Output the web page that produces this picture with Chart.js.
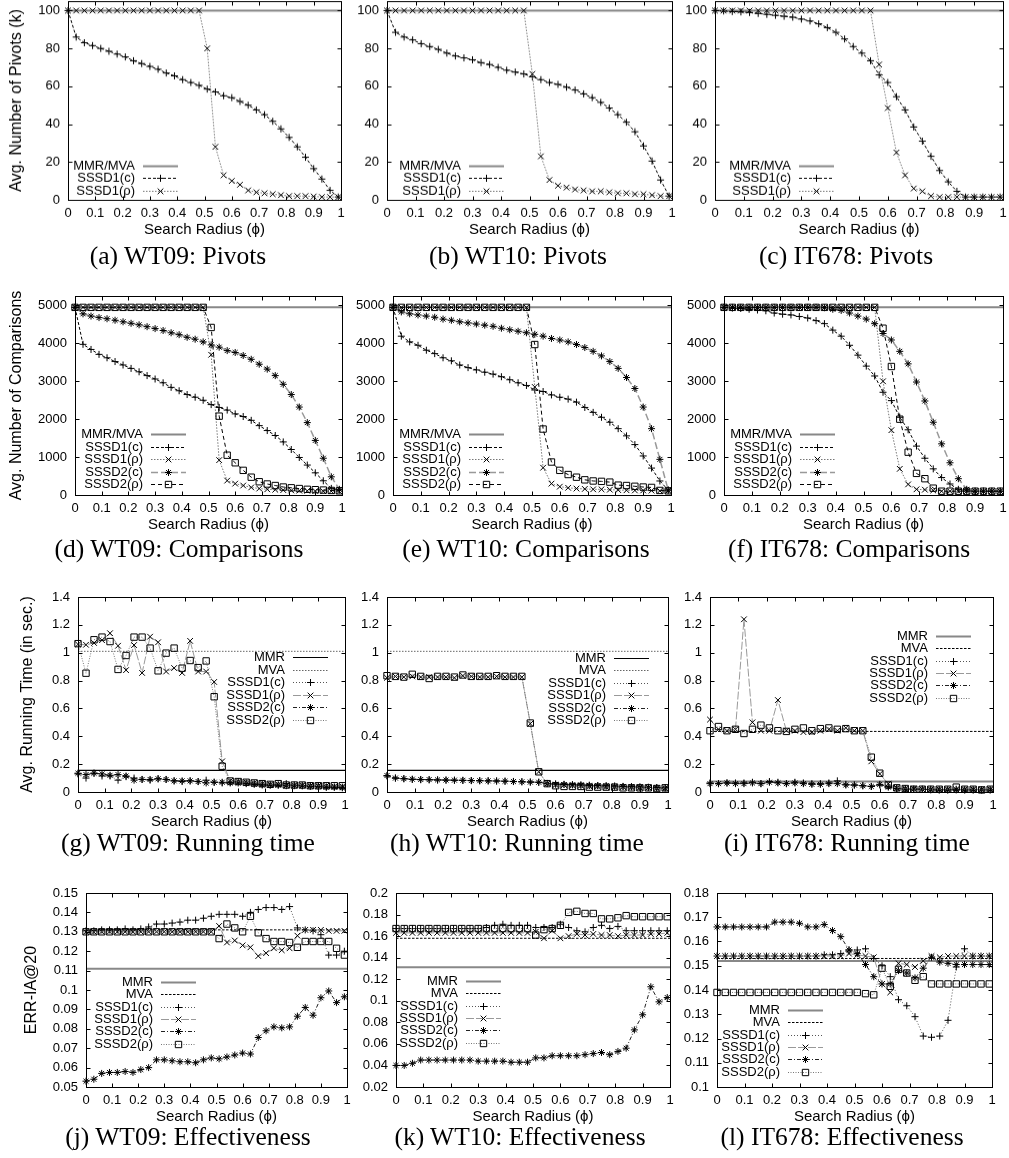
<!DOCTYPE html>
<html>
<head>
<meta charset="utf-8">
<script src="https://cdn.jsdelivr.net/npm/chart.js@4.4.1/dist/chart.umd.min.js"></script>
<style>
  body { margin: 0; background: #fff; }
  #fig { position: relative; width: 1009px; height: 1158px; overflow: hidden; background: #fff; }
  #fig canvas { position: absolute; }
  .cap { position: absolute; font-family: "Liberation Serif", serif; font-size: 25.5px; line-height: 25.5px;
         white-space: nowrap; transform: translateX(-50%); color: #000; }
</style>
</head>
<body>
<div id="fig"></div>
<script>
// search radius values (x axis)
const radius = [0, 0.03, 0.06, 0.09, 0.12, 0.15, 0.18, 0.21, 0.24, 0.27, 0.3, 0.33, 0.36, 0.39, 0.42, 0.45, 0.48,
  0.51, 0.54, 0.57, 0.6, 0.63, 0.66, 0.69, 0.72, 0.75, 0.78, 0.81, 0.84, 0.87, 0.9, 0.93, 0.96, 0.99];

// tick labels
const radiusTicks = [0, 0.1, 0.2, 0.3, 0.4, 0.5, 0.6, 0.7, 0.8, 0.9, 1];
const pivotTicks = [0, 20, 40, 60, 80, 100];
const cmpTicks = [0, 1000, 2000, 3000, 4000, 5000];
const timeTicks = [0, 0.2, 0.4, 0.6, 0.8, 1, 1.2, 1.4];
const wt09ErrTicks = [0.05, 0.06, 0.07, 0.08, 0.09, 0.1, 0.11, 0.12, 0.13, 0.14, 0.15];
const wt10ErrTicks = [0.02, 0.04, 0.06, 0.08, 0.1, 0.12, 0.14, 0.16, 0.18, 0.2];
const it678ErrTicks = [0.1, 0.11, 0.12, 0.13, 0.14, 0.15, 0.16, 0.17, 0.18];

// constant baselines: WT09, WT10, IT678
const pivotsMmrMva = [100, 100, 100];
const cmpMmrMva = [4950, 4950, 4950];
const timeMmr = [0.155, 0.155, 0.075];
const timeMva = [1.01, 1.01, 0.435];
const errMmr = [0.111, 0.131, 0.152];
const errMva = [0.131, 0.158, 0.153];

// pivots
const wt09PivC = [100, 86, 83, 81.5, 80, 78.5, 77, 75.5, 73.5, 72, 70.5, 69, 67, 65.5, 63.5, 62, 60.5, 58.5, 57, 55, 54, 52, 50, 47.5, 45, 41.5, 37.5, 33, 28, 22.5, 16.5, 11, 5, 1.5];
const wt09PivR = [100, 100, 100, 100, 100, 100, 100, 100, 100, 100, 100, 100, 100, 100, 100, 100, 100, 80, 28, 13, 10, 8, 5, 4, 3.5, 3, 2.5, 2, 2, 2, 1.8, 1.5, 1.5, 1.5];
const wt10PivC = [100, 88.5, 86, 84.5, 82.5, 81, 79.5, 77.5, 76, 75, 74, 72.5, 71.5, 70, 68.5, 67.5, 66.5, 65, 63.5, 62, 61, 59.5, 58, 56, 54, 51.5, 48.5, 45, 41, 36, 28.5, 20.5, 10.5, 2];
const wt10PivR = [100, 100, 100, 100, 100, 100, 100, 100, 100, 100, 100, 100, 100, 100, 100, 100, 100, 66.5, 23, 10.5, 7.5, 6.5, 5.5, 5, 4.5, 4.5, 4, 3.5, 3.5, 3, 3, 2.5, 2, 2];
const it678PivC = [100, 99.8, 99.5, 99.3, 99, 98.5, 98, 97.5, 97, 96.5, 95.5, 94.5, 93, 91, 88.5, 85, 81, 77.5, 73.5, 66, 62, 54.5, 47.5, 38.5, 31, 23, 15.5, 9.5, 4.5, 1.5, 1.5, 1.5, 1.5, 1.5];
const it678PivR = [100, 100, 100, 100, 100, 100, 100, 100, 100, 100, 100, 100, 100, 100, 100, 100, 100, 100, 100, 71.5, 48.5, 25, 13, 6, 4.5, 2, 1.5, 1.5, 1.5, 1.5, 1.5, 1.5, 1.5, 1.5];

// comparisons
const wt09CmpC1 = [4950, 3975, 3840, 3710, 3620, 3520, 3430, 3340, 3250, 3150, 3060, 2960, 2840, 2750, 2650, 2580, 2500, 2385, 2310, 2240, 2140, 2070, 1970, 1830, 1700, 1570, 1400, 1200, 990, 790, 585, 375, 175, 130];
const wt09CmpR1 = [4950, 4950, 4950, 4950, 4950, 4950, 4950, 4950, 4950, 4950, 4950, 4950, 4950, 4950, 4950, 4950, 4950, 3700, 920, 380, 300, 250, 200, 170, 150, 140, 130, 120, 115, 110, 105, 100, 100, 100];
const wt09CmpC2 = [4950, 4780, 4720, 4680, 4650, 4610, 4570, 4530, 4490, 4440, 4390, 4340, 4280, 4230, 4160, 4110, 4040, 3960, 3900, 3810, 3760, 3680, 3580, 3450, 3320, 3150, 2920, 2650, 2320, 1910, 1440, 970, 480, 150];
const wt09CmpR2 = [4950, 4950, 4950, 4950, 4950, 4950, 4950, 4950, 4950, 4950, 4950, 4950, 4950, 4950, 4950, 4950, 4950, 4420, 2080, 1050, 850, 650, 470, 350, 290, 250, 210, 190, 170, 150, 140, 130, 120, 110];
const wt10CmpC1 = [4950, 4190, 4040, 3950, 3820, 3730, 3620, 3540, 3430, 3360, 3300, 3240, 3190, 3120, 3040, 2960, 2890, 2770, 2730, 2640, 2580, 2530, 2450, 2310, 2180, 2050, 1920, 1750, 1560, 1330, 1030, 710, 370, 130];
const wt10CmpR1 = [4950, 4950, 4950, 4950, 4950, 4950, 4950, 4950, 4950, 4950, 4950, 4950, 4950, 4950, 4950, 4950, 4950, 2850, 720, 300, 220, 190, 170, 160, 150, 150, 140, 130, 125, 120, 120, 115, 110, 110];
const wt10CmpC2 = [4950, 4830, 4780, 4750, 4720, 4690, 4640, 4610, 4570, 4540, 4510, 4480, 4450, 4400, 4360, 4320, 4280, 4240, 4190, 4130, 4090, 4040, 3970, 3890, 3790, 3670, 3520, 3340, 3100, 2810, 2320, 1750, 940, 130];
const wt10CmpR2 = [4950, 4950, 4950, 4950, 4950, 4950, 4950, 4950, 4950, 4950, 4950, 4950, 4950, 4950, 4950, 4950, 4950, 3970, 1740, 870, 650, 540, 470, 400, 370, 360, 340, 260, 250, 230, 210, 200, 120, 110];
const it678CmpC1 = [4950, 4930, 4920, 4900, 4880, 4860, 4800, 4770, 4750, 4710, 4670, 4600, 4520, 4350, 4190, 3950, 3690, 3400, 3140, 2710, 2490, 2050, 1720, 1290, 970, 690, 460, 290, 150, 110, 100, 100, 100, 100];
const it678CmpR1 = [4950, 4950, 4950, 4950, 4950, 4950, 4950, 4950, 4950, 4950, 4950, 4950, 4950, 4950, 4950, 4950, 4950, 4950, 4950, 3000, 1710, 690, 280, 150, 140, 120, 100, 100, 100, 100, 100, 100, 100, 100];
const it678CmpC2 = [4950, 4950, 4950, 4950, 4950, 4950, 4950, 4950, 4950, 4950, 4950, 4950, 4940, 4900, 4870, 4800, 4720, 4640, 4520, 4260, 4090, 3790, 3460, 2980, 2480, 1920, 1350, 850, 430, 150, 100, 100, 100, 100];
const it678CmpR2 = [4950, 4950, 4950, 4950, 4950, 4950, 4950, 4950, 4950, 4950, 4950, 4950, 4950, 4950, 4950, 4950, 4950, 4950, 4950, 4400, 3390, 2000, 1130, 570, 430, 180, 100, 100, 100, 100, 100, 100, 100, 100];

// running time (sec.)
const wt09TimeC1 = [0.13, 0.10, 0.135, 0.115, 0.115, 0.085, 0.11, 0.10, 0.09, 0.085, 0.095, 0.09, 0.08, 0.075, 0.08, 0.075, 0.085, 0.07, 0.065, 0.07, 0.075, 0.065, 0.06, 0.055, 0.05, 0.05, 0.06, 0.05, 0.045, 0.045, 0.04, 0.035, 0.035, 0.035];
const wt09TimeR1 = [1.06, 1.057, 1.07, 1.09, 1.14, 1.05, 0.875, 1.055, 0.855, 1.115, 1.075, 0.865, 0.89, 0.855, 1.085, 0.865, 0.865, 0.79, 0.22, 0.08, 0.075, 0.07, 0.065, 0.06, 0.055, 0.055, 0.05, 0.05, 0.05, 0.045, 0.045, 0.045, 0.04, 0.04];
const wt09TimeC2 = [0.135, 0.125, 0.135, 0.13, 0.12, 0.125, 0.115, 0.085, 0.09, 0.09, 0.095, 0.09, 0.08, 0.08, 0.08, 0.075, 0.065, 0.07, 0.07, 0.065, 0.065, 0.06, 0.055, 0.05, 0.05, 0.05, 0.045, 0.045, 0.045, 0.04, 0.04, 0.035, 0.035, 0.03];
const wt09TimeR2 = [1.065, 0.853, 1.093, 1.112, 1.08, 0.88, 0.98, 1.112, 1.112, 1.033, 0.87, 0.997, 1.033, 0.889, 0.944, 0.893, 0.941, 0.684, 0.185, 0.079, 0.075, 0.07, 0.065, 0.06, 0.055, 0.06, 0.05, 0.05, 0.05, 0.045, 0.045, 0.045, 0.045, 0.045];
const wt10TimeC1 = [0.115, 0.1, 0.095, 0.09, 0.088, 0.087, 0.086, 0.085, 0.084, 0.083, 0.082, 0.081, 0.08, 0.079, 0.078, 0.076, 0.074, 0.072, 0.07, 0.062, 0.058, 0.055, 0.052, 0.05, 0.048, 0.046, 0.044, 0.042, 0.04, 0.038, 0.036, 0.034, 0.032, 0.03];
const wt10TimeR1 = [0.82, 0.83, 0.825, 0.83, 0.825, 0.825, 0.825, 0.825, 0.82, 0.835, 0.83, 0.825, 0.825, 0.83, 0.825, 0.825, 0.825, 0.49, 0.145, 0.06, 0.05, 0.05, 0.045, 0.045, 0.04, 0.04, 0.035, 0.035, 0.035, 0.03, 0.03, 0.03, 0.025, 0.025];
const wt10TimeC2 = [0.118, 0.1, 0.096, 0.092, 0.09, 0.089, 0.087, 0.086, 0.085, 0.084, 0.082, 0.081, 0.08, 0.079, 0.077, 0.075, 0.073, 0.071, 0.07, 0.06, 0.056, 0.054, 0.052, 0.05, 0.048, 0.046, 0.044, 0.042, 0.04, 0.038, 0.035, 0.033, 0.031, 0.03];
const wt10TimeR2 = [0.835, 0.83, 0.825, 0.845, 0.83, 0.815, 0.83, 0.83, 0.825, 0.84, 0.83, 0.83, 0.83, 0.835, 0.83, 0.83, 0.83, 0.495, 0.145, 0.06, 0.045, 0.04, 0.04, 0.04, 0.035, 0.035, 0.035, 0.035, 0.03, 0.03, 0.03, 0.03, 0.025, 0.03];
const it678TimeC1 = [0.065, 0.06, 0.065, 0.065, 0.065, 0.07, 0.06, 0.075, 0.07, 0.06, 0.07, 0.065, 0.06, 0.06, 0.065, 0.08, 0.055, 0.05, 0.045, 0.04, 0.05, 0.04, 0.025, 0.025, 0.02, 0.02, 0.02, 0.015, 0.015, 0.02, 0.015, 0.015, 0.015, 0.015];
const it678TimeR1 = [0.52, 0.45, 0.44, 0.45, 1.24, 0.5, 0.44, 0.44, 0.66, 0.44, 0.44, 0.43, 0.43, 0.44, 0.45, 0.44, 0.46, 0.44, 0.44, 0.22, 0.13, 0.06, 0.03, 0.025, 0.025, 0.02, 0.02, 0.02, 0.02, 0.02, 0.02, 0.02, 0.02, 0.02];
const it678TimeC2 = [0.06, 0.06, 0.065, 0.06, 0.06, 0.065, 0.06, 0.07, 0.065, 0.06, 0.065, 0.06, 0.055, 0.055, 0.06, 0.06, 0.05, 0.05, 0.045, 0.04, 0.055, 0.035, 0.025, 0.02, 0.02, 0.02, 0.015, 0.015, 0.015, 0.015, 0.015, 0.015, 0.015, 0.015];
const it678TimeR2 = [0.44, 0.47, 0.44, 0.45, 0.42, 0.45, 0.48, 0.46, 0.44, 0.435, 0.45, 0.46, 0.44, 0.455, 0.46, 0.45, 0.455, 0.44, 0.44, 0.25, 0.135, 0.05, 0.03, 0.025, 0.02, 0.02, 0.02, 0.02, 0.02, 0.035, 0.02, 0.02, 0.015, 0.02];

// effectiveness (ERR-IA@20)
const wt09ErrC1 = [0.1305, 0.1305, 0.131, 0.131, 0.131, 0.1315, 0.131, 0.1315, 0.1325, 0.134, 0.134, 0.1345, 0.135, 0.136, 0.136, 0.137, 0.138, 0.139, 0.139, 0.139, 0.138, 0.14, 0.1415, 0.1425, 0.1425, 0.1415, 0.143, 0.132, 0.131, 0.1305, 0.1285, 0.118, 0.118, 0.12];
const wt09ErrR1 = [0.13, 0.13, 0.13, 0.13, 0.13, 0.13, 0.13, 0.13, 0.13, 0.13, 0.13, 0.13, 0.13, 0.13, 0.13, 0.13, 0.13, 0.133, 0.1245, 0.1255, 0.123, 0.122, 0.1175, 0.119, 0.1215, 0.1205, 0.1215, 0.128, 0.131, 0.131, 0.131, 0.1305, 0.1305, 0.1305];
const wt09ErrC2 = [0.053, 0.054, 0.057, 0.0575, 0.0575, 0.058, 0.0575, 0.059, 0.06, 0.064, 0.064, 0.0635, 0.063, 0.063, 0.0625, 0.064, 0.065, 0.0645, 0.0655, 0.0665, 0.0675, 0.067, 0.0755, 0.079, 0.081, 0.0805, 0.081, 0.0865, 0.091, 0.087, 0.096, 0.0995, 0.0935, 0.0965];
const wt09ErrR2 = [0.13, 0.13, 0.13, 0.13, 0.13, 0.13, 0.13, 0.13, 0.13, 0.13, 0.13, 0.13, 0.13, 0.13, 0.13, 0.13, 0.13, 0.1265, 0.134, 0.132, 0.13, 0.138, 0.1295, 0.1265, 0.125, 0.125, 0.1245, 0.122, 0.125, 0.125, 0.125, 0.125, 0.1215, 0.118];
const wt10ErrC1 = [0.167, 0.167, 0.167, 0.167, 0.167, 0.167, 0.167, 0.167, 0.167, 0.167, 0.167, 0.168, 0.17, 0.171, 0.17, 0.17, 0.17, 0.168, 0.168, 0.168, 0.171, 0.168, 0.165, 0.164, 0.168, 0.17, 0.167, 0.169, 0.165, 0.165, 0.165, 0.165, 0.165, 0.165];
const wt10ErrR1 = [0.163, 0.163, 0.163, 0.163, 0.163, 0.163, 0.163, 0.163, 0.163, 0.163, 0.163, 0.163, 0.163, 0.163, 0.163, 0.163, 0.163, 0.164, 0.158, 0.165, 0.158, 0.16, 0.162, 0.161, 0.162, 0.161, 0.161, 0.16, 0.161, 0.161, 0.161, 0.162, 0.162, 0.163];
const wt10ErrC2 = [0.04, 0.04, 0.042, 0.045, 0.045, 0.045, 0.045, 0.045, 0.045, 0.045, 0.044, 0.044, 0.044, 0.044, 0.043, 0.043, 0.043, 0.047, 0.047, 0.049, 0.049, 0.049, 0.049, 0.05, 0.051, 0.052, 0.05, 0.053, 0.056, 0.073, 0.087, 0.113, 0.099, 0.103];
const wt10ErrR2 = [0.167, 0.167, 0.167, 0.167, 0.167, 0.167, 0.167, 0.167, 0.167, 0.167, 0.167, 0.167, 0.167, 0.167, 0.167, 0.167, 0.167, 0.161, 0.166, 0.167, 0.17, 0.182, 0.183, 0.181, 0.181, 0.176, 0.176, 0.177, 0.179, 0.178, 0.178, 0.178, 0.178, 0.178];
const it678ErrC1 = [0.154, 0.154, 0.154, 0.154, 0.154, 0.154, 0.154, 0.154, 0.154, 0.154, 0.154, 0.154, 0.154, 0.1545, 0.1545, 0.155, 0.1565, 0.1565, 0.157, 0.153, 0.15, 0.1455, 0.136, 0.1335, 0.129, 0.121, 0.1205, 0.121, 0.1275, 0.1495, 0.157, 0.154, 0.154, 0.154];
const it678ErrR1 = [0.154, 0.154, 0.154, 0.154, 0.154, 0.154, 0.154, 0.154, 0.154, 0.154, 0.154, 0.154, 0.154, 0.154, 0.154, 0.154, 0.155, 0.1545, 0.154, 0.1535, 0.1425, 0.139, 0.151, 0.1505, 0.1495, 0.152, 0.154, 0.1535, 0.154, 0.154, 0.154, 0.154, 0.154, 0.154];
const it678ErrC2 = [0.166, 0.166, 0.166, 0.166, 0.166, 0.166, 0.166, 0.168, 0.168, 0.168, 0.1675, 0.166, 0.166, 0.167, 0.1645, 0.162, 0.1565, 0.155, 0.1505, 0.1455, 0.1425, 0.1425, 0.148, 0.147, 0.145, 0.149, 0.1535, 0.1515, 0.151, 0.1505, 0.1505, 0.1505, 0.1505, 0.1505];
const it678ErrR2 = [0.139, 0.139, 0.139, 0.139, 0.139, 0.139, 0.139, 0.139, 0.139, 0.139, 0.139, 0.139, 0.139, 0.139, 0.139, 0.139, 0.139, 0.139, 0.1385, 0.138, 0.149, 0.1415, 0.1485, 0.147, 0.144, 0.1455, 0.1425, 0.1425, 0.1425, 0.1425, 0.1425, 0.1425, 0.1425, 0.1425];

Chart.defaults.font.family = '"Liberation Sans", Arial, sans-serif';
Chart.defaults.color = '#000';

// line styles, rows 1-2
const S1 = {
  base: { color: '#888', width: 2, dash: [] },
  c1: { color: '#000', width: 1, dash: [3, 2], point: 'cross', r: 3.5 },
  r1: { color: '#777', width: 1, dash: [1.5, 1.5], point: 'crossRot', r: 4 },
  c2: { color: '#999', width: 1.5, dash: [7, 3], point: 'star', r: 3.5 },
  r2: { color: '#000', width: 1, dash: [4, 3], point: 'rect', r: 4.5 }
};
// line styles, rows 3-4
const S2 = {
  mmrBlack: { color: '#000', width: 1.2, dash: [] },
  mmrGray: { color: '#888', width: 2, dash: [] },
  mvaDot: { color: '#666', width: 1, dash: [1.5, 1.5] },
  mvaDash: { color: '#000', width: 1, dash: [2.5, 1.5] },
  c1: { color: '#555', width: 1, dash: [1, 2], point: 'cross', r: 3.5 },
  r1: { color: '#999', width: 1, dash: [8, 2], point: 'crossRot', r: 4 },
  c2: { color: '#222', width: 1, dash: [4, 2, 1, 2], point: 'star', r: 3.5 },
  r2: { color: '#777', width: 1, dash: [1, 1.5], point: 'rect', r: 4.5 }
};

const pts = ys => ys.map((y, i) => ({ x: radius[i], y }));
const flat = v => [{ x: 0, y: v }, { x: 1, y: v }];
const fmt = v => String(+Number(v).toFixed(4));

function ds(label, data, st) {
  return {
    label, data,
    borderColor: st.color, borderWidth: st.width, borderDash: st.dash,
    pointStyle: st.point || 'circle', pointRadius: st.point ? st.r : 0,
    pointBorderColor: '#000', pointBackgroundColor: 'rgba(0,0,0,0)', pointBorderWidth: 1,
    fill: false, tension: 0, clip: false
  };
}

// frame with inward ticks on all four sides
const framePlugin = {
  id: 'frame',
  afterDatasetsDraw(chart) {
    const { ctx, chartArea: a, scales: { x, y } } = chart;
    const l = Math.round(a.left) + 0.5, r = Math.round(a.right) + 0.5;
    const t = Math.round(a.top) + 0.5, b = Math.round(a.bottom) + 0.5;
    ctx.save();
    ctx.strokeStyle = '#000';
    ctx.lineWidth = 1;
    ctx.setLineDash([]);
    ctx.strokeRect(l, t, r - l, b - t);
    ctx.beginPath();
    for (const tk of x.ticks) {
      const px = Math.round(x.getPixelForValue(tk.value)) + 0.5;
      ctx.moveTo(px, b); ctx.lineTo(px, b - 4);
      ctx.moveTo(px, t); ctx.lineTo(px, t + 4);
    }
    for (const tk of y.ticks) {
      const py = Math.round(y.getPixelForValue(tk.value)) + 0.5;
      ctx.moveTo(l, py); ctx.lineTo(l + 4, py);
      ctx.moveTo(r, py); ctx.lineTo(r - 4, py);
    }
    ctx.stroke();
    ctx.restore();
  }
};

// gnuplot-style key: right-aligned labels with a line sample to the right
function keyPlugin(kx, ky, dy) {
  return {
    id: 'key',
    afterDraw(chart) {
      const ctx = chart.ctx;
      ctx.save();
      ctx.font = '13px "Liberation Sans", Arial, sans-serif';
      ctx.textAlign = 'right';
      ctx.textBaseline = 'middle';
      chart.data.datasets.forEach((d, i) => {
        const yy = Math.round(ky + i * dy) + 0.5;
        ctx.fillStyle = '#000';
        ctx.fillText(d.label, kx, yy);
        ctx.strokeStyle = d.borderColor;
        ctx.lineWidth = d.borderWidth;
        ctx.setLineDash(d.borderDash);
        ctx.beginPath();
        ctx.moveTo(kx + 8, yy);
        ctx.lineTo(kx + 43, yy);
        ctx.stroke();
        if (d.pointRadius > 0 && Chart.helpers && Chart.helpers.drawPoint) {
          ctx.setLineDash([]);
          ctx.strokeStyle = '#000';
          ctx.fillStyle = 'rgba(0,0,0,0)';
          ctx.lineWidth = 1;
          Chart.helpers.drawPoint(ctx, { pointStyle: d.pointStyle, rotation: 0, radius: d.pointRadius, borderWidth: 1 }, kx + 25.5, yy);
        }
      });
      ctx.restore();
    }
  };
}

const XH = 42, PT = 22, PR = 14;
function makePanel(p) {
  const [L, T, R, B] = p.box;
  const yW = p.yTitle ? L : 48;
  const left = L - yW, top = T - PT;
  const width = R + PR - left, height = B + XH - top;
  const cv = document.createElement('canvas');
  cv.width = width; cv.height = height;
  Object.assign(cv.style, { left: left + 'px', top: top + 'px', width: width + 'px', height: height + 'px' });
  document.getElementById('fig').appendChild(cv);

  new Chart(cv, {
    type: 'line',
    data: { datasets: p.datasets.map((d, i, a) => ({ ...d, order: a.length - i })) },
    options: {
      responsive: false,
      animation: false,
      events: [],
      layout: { padding: { left: 0, top: PT, right: PR, bottom: 0 } },
      scales: {
        x: {
          type: 'linear', min: 0, max: 1,
          afterFit: s => { s.height = XH; },
          afterBuildTicks: s => { s.ticks = radiusTicks.map(v => ({ value: v })); },
          grid: { display: false, drawTicks: false },
          border: { display: false },
          ticks: { padding: 6, autoSkip: false, maxRotation: 0, callback: fmt, font: { size: 13 } },
          title: { display: true, text: 'Search Radius (ϕ)', font: { size: 15 }, padding: { top: 0, bottom: 3 } }
        },
        y: {
          type: 'linear', min: p.yMin, max: p.yMax,
          afterFit: s => { s.width = yW; },
          afterBuildTicks: s => { s.ticks = p.yTicks.map(v => ({ value: v })); },
          grid: { display: false, drawTicks: false },
          border: { display: false },
          ticks: { padding: 8, autoSkip: false, callback: fmt, font: { size: 13 } },
          title: { display: !!p.yTitle, text: p.yTitle || '', font: { size: 16 }, padding: { top: p.yTitlePad || 0, bottom: 0 } }
        }
      },
      plugins: { legend: { display: false }, tooltip: { enabled: false } }
    },
    plugins: [framePlugin, keyPlugin(p.key[0] - left, p.key[1] - top, p.key[2])]
  });

  const cap = document.createElement('div');
  cap.className = 'cap';
  cap.textContent = p.caption[0];
  cap.style.left = p.caption[1] + 'px';
  cap.style.top = (p.caption[2] - 21.4) + 'px';
  document.getElementById('fig').appendChild(cap);
}

function pivotSets(k, c, r) {
  return [ds('MMR/MVA', flat(pivotsMmrMva[k]), S1.base), ds('SSSD1(c)', pts(c), S1.c1), ds('SSSD1(ρ)', pts(r), S1.r1)];
}
function cmpSets(k, c1, r1, c2, r2) {
  return [ds('MMR/MVA', flat(cmpMmrMva[k]), S1.base), ds('SSSD1(c)', pts(c1), S1.c1), ds('SSSD1(ρ)', pts(r1), S1.r1),
          ds('SSSD2(c)', pts(c2), S1.c2), ds('SSSD2(ρ)', pts(r2), S1.r2)];
}
function sixSets(mmr, mva, mmrSt, mvaSt, c1, r1, c2, r2) {
  return [ds('MMR', flat(mmr), mmrSt), ds('MVA', flat(mva), mvaSt), ds('SSSD1(c)', pts(c1), S2.c1),
          ds('SSSD1(ρ)', pts(r1), S2.r1), ds('SSSD2(c)', pts(c2), S2.c2), ds('SSSD2(ρ)', pts(r2), S2.r2)];
}

const panels = [
  { box: [68, 1, 341, 199.5], yMin: 0, yMax: 105, yTicks: pivotTicks, yTitle: 'Avg. Number of Pivots (k)', yTitlePad: 7.4,
    datasets: pivotSets(0, wt09PivC, wt09PivR), key: [135, 165, 12.3], caption: ['(a) WT09: Pivots', 178, 264] },
  { box: [387, 1, 672, 199.5], yMin: 0, yMax: 105, yTicks: pivotTicks,
    datasets: pivotSets(1, wt10PivC, wt10PivR), key: [461, 165, 12.3], caption: ['(b) WT10: Pivots', 518, 264] },
  { box: [715, 1, 1003, 199.5], yMin: 0, yMax: 105, yTicks: pivotTicks,
    datasets: pivotSets(2, it678PivC, it678PivR), key: [791, 165, 12.3], caption: ['(c) IT678: Pivots', 846, 264] },

  { box: [75, 296, 342, 495], yMin: 0, yMax: 5250, yTicks: cmpTicks, yTitle: 'Avg. Number of Comparisons', yTitlePad: 7.4,
    datasets: cmpSets(0, wt09CmpC1, wt09CmpR1, wt09CmpC2, wt09CmpR2), key: [143, 434, 12.5], caption: ['(d) WT09: Comparisons', 179, 557] },
  { box: [393, 296, 671, 495], yMin: 0, yMax: 5250, yTicks: cmpTicks,
    datasets: cmpSets(1, wt10CmpC1, wt10CmpR1, wt10CmpC2, wt10CmpR2), key: [461, 434, 12.5], caption: ['(e) WT10: Comparisons', 526, 557] },
  { box: [724, 296, 1003, 495], yMin: 0, yMax: 5250, yTicks: cmpTicks,
    datasets: cmpSets(2, it678CmpC1, it678CmpR1, it678CmpC2, it678CmpR2), key: [792, 434, 12.5], caption: ['(f) IT678: Comparisons', 849, 557] },

  { box: [78, 597, 345, 792], yMin: 0, yMax: 1.4, yTicks: timeTicks, yTitle: 'Avg. Running Time (in sec.)', yTitlePad: 18.4,
    datasets: sixSets(timeMmr[0], timeMva[0], S2.mmrBlack, S2.mvaDot, wt09TimeC1, wt09TimeR1, wt09TimeC2, wt09TimeR2),
    key: [285, 657, 12.6], caption: ['(g) WT09: Running time', 188, 851] },
  { box: [387, 597, 668, 792], yMin: 0, yMax: 1.4, yTicks: timeTicks,
    datasets: sixSets(timeMmr[1], timeMva[1], S2.mmrBlack, S2.mvaDot, wt10TimeC1, wt10TimeR1, wt10TimeC2, wt10TimeR2),
    key: [606, 658, 12.4], caption: ['(h) WT10: Running time', 517, 851] },
  { box: [710, 597, 993, 792], yMin: 0, yMax: 1.4, yTicks: timeTicks,
    datasets: sixSets(timeMmr[2], timeMva[2], S2.mmrGray, S2.mvaDash, it678TimeC1, it678TimeR1, it678TimeC2, it678TimeR2),
    key: [928, 636, 12.3], caption: ['(i) IT678: Running time', 847, 851] },

  { box: [86, 893, 347, 1087], yMin: 0.05, yMax: 0.15, yTicks: wt09ErrTicks, yTitle: 'ERR-IA@20', yTitlePad: 22.4,
    datasets: sixSets(errMmr[0], errMva[0], S2.mmrGray, S2.mvaDash, wt09ErrC1, wt09ErrR1, wt09ErrC2, wt09ErrR2),
    key: [153, 982, 12.3], caption: ['(j) WT09: Effectiveness', 188, 1145] },
  { box: [396, 893, 670, 1087], yMin: 0.02, yMax: 0.2, yTicks: wt10ErrTicks,
    datasets: sixSets(errMmr[1], errMva[1], S2.mmrGray, S2.mvaDash, wt10ErrC1, wt10ErrR1, wt10ErrC2, wt10ErrR2),
    key: [458, 981, 12.3], caption: ['(k) WT10: Effectiveness', 520, 1145] },
  { box: [717, 893, 992, 1087], yMin: 0.1, yMax: 0.18, yTicks: it678ErrTicks,
    datasets: sixSets(errMmr[2], errMva[2], S2.mmrGray, S2.mvaDash, it678ErrC1, it678ErrR1, it678ErrC2, it678ErrR2),
    key: [780, 1010, 12.3], caption: ['(l) IT678: Effectiveness', 842, 1145] }
];

panels.forEach(makePanel);
</script>
</body>
</html>
